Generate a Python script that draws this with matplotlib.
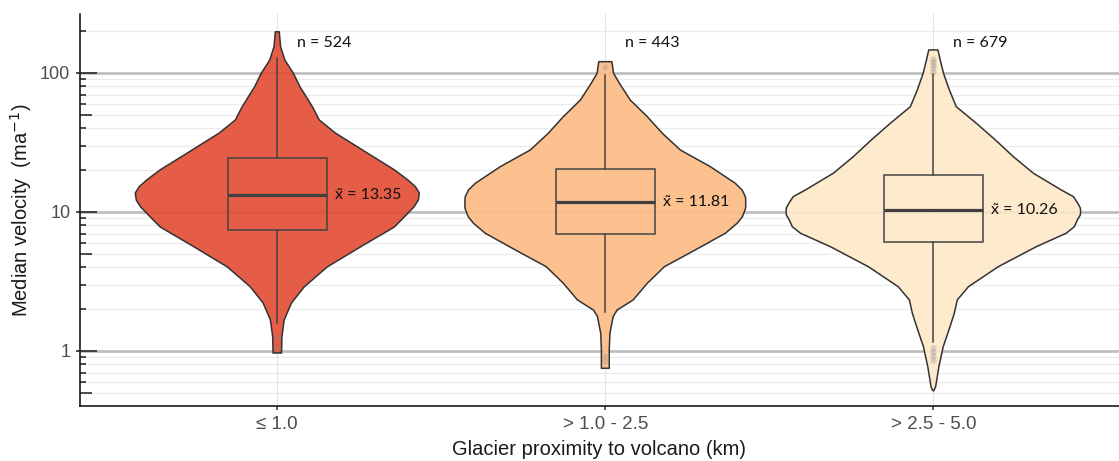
import matplotlib.pyplot as plt
import numpy as np
from matplotlib.colors import to_rgba
from matplotlib.ticker import FixedLocator, NullFormatter, FixedFormatter

categories = ['≤ 1.0', '> 1.0 - 2.5', '> 2.5 - 5.0']
n_obs = [524, 443, 679]
medians = [13.35, 11.81, 10.26]
q1 = [7.42, 6.91, 6.09]
q3 = [24.6, 20.4, 18.5]
whisker_lo = [1.58, 1.92, 1.17]
whisker_hi = [128.9, 96.8, 98.0]
outliers = [[1.05, 1.26],
            [0.85, 0.92, 111.0],
            [0.86, 0.92, 0.98, 1.05, 102.0, 108.0, 114.0, 120.0, 126.0]]
fill_colors = ['#e34a33', '#fdbb84', '#fee8c8']

# violin outlines: velocity value and half width
violin1_y = [198, 154.6, 124, 99.5, 79.7, 57.2, 45.9, 37.0, 26.6, 20.1, 17.0, 15.2, 13.7,
             12.2, 10.9, 9.84, 7.80, 5.60, 4.02, 2.89, 2.21, 1.67, 1.26, 0.967]
violin1_w = [0.006, 0.010, 0.023, 0.049, 0.069, 0.107, 0.128, 0.177, 0.274, 0.357, 0.398,
             0.421, 0.433, 0.430, 0.417, 0.399, 0.357, 0.253, 0.152, 0.082, 0.043, 0.021,
             0.014, 0.013]
violin2_y = [120.6, 99.5, 84.3, 63.9, 48.5, 36.8, 27.9, 21.2, 16.1, 14.4, 12.9, 12.2,
             10.9, 10.5, 9.25, 8.3, 7.03, 5.33, 4.04, 3.07, 2.33, 1.97, 1.77, 1.34, 1.02,
             0.751]
violin2_w = [0.020, 0.025, 0.043, 0.076, 0.128, 0.174, 0.229, 0.320, 0.396, 0.417, 0.427,
             0.428, 0.428, 0.427, 0.418, 0.402, 0.366, 0.274, 0.180, 0.128, 0.085, 0.036,
             0.024, 0.014, 0.012, 0.012]
violin3_y = [146.5, 124.1, 99.5, 75.4, 57.2, 43.5, 33.0, 25.0, 19.0, 14.4, 12.9, 11.5,
             10.7, 10.05, 9.5, 8.76, 7.84, 7.03, 5.63, 4.04, 2.90, 2.33, 1.87, 1.50, 1.07,
             0.771, 0.553, 0.518]
violin3_w = [0.014, 0.021, 0.031, 0.049, 0.070, 0.131, 0.189, 0.244, 0.305, 0.390, 0.427,
             0.441, 0.448, 0.449, 0.448, 0.439, 0.430, 0.405, 0.314, 0.198, 0.107, 0.073,
             0.064, 0.051, 0.030, 0.017, 0.007, 0.0015]
violins = [(violin1_y, violin1_w), (violin2_y, violin2_w), (violin3_y, violin3_w)]

major_y = [1, 10, 100]
mid_y = [0.5, 5, 50]
minor_y = [0.4, 0.6, 0.7, 0.8, 0.9, 2, 3, 4, 6, 7, 8, 9,
           20, 30, 40, 60, 70, 80, 90, 200]

ANNOT_FONT = ['Lato', 'DejaVu Sans']
plt.rcParams['font.family'] = ['Liberation Sans', 'DejaVu Sans']

pos = np.arange(len(categories))

fig = plt.figure(figsize=(11.19, 4.61), dpi=100)
ax = fig.add_axes([80/1119, 55/461, 1039/1119, 392/461])
ax.set_yscale('log')
ax.set_xlim(-0.6015, 2.566)
ax.set_ylim(0.402, 265.7)

# grid
for v in major_y:
    ax.axhline(v, color='#bdbdbd', lw=1.9, zorder=0.6)
for v in mid_y + minor_y:
    ax.axhline(v, color='#ebebeb', lw=0.8, zorder=0.5)
for p in pos:
    ax.axvline(p, color='#e3e3e3', lw=0.8, zorder=0.5)

# violins
for p, (vy, vw), c in zip(pos, violins, fill_colors):
    vy = np.array(vy)
    vw = np.array(vw)
    xs = np.concatenate([p - vw, (p + vw)[::-1]])
    ys = np.concatenate([vy, vy[::-1]])
    ax.fill(xs, ys, facecolor=to_rgba(c, 0.9), edgecolor='#333333', lw=1.1,
            joinstyle='round', zorder=2)

# boxes
stats = []
for i in range(len(categories)):
    stats.append(dict(med=medians[i], q1=q1[i], q3=q3[i],
                      whislo=whisker_lo[i], whishi=whisker_hi[i],
                      fliers=outliers[i]))
ax.bxp(stats, positions=pos, widths=0.3, showcaps=False, patch_artist=True,
       boxprops=dict(facecolor='none', edgecolor='#444444', lw=1.1),
       medianprops=dict(color='#404040', lw=2.3),
       whiskerprops=dict(color='#444444', lw=1.1),
       flierprops=dict(marker='o', markersize=4.5, markerfacecolor='#8c8c8c',
                       markeredgecolor='none', alpha=0.3),
       zorder=3, manage_ticks=False)

# annotations
for p, n, m in zip(pos, n_obs, medians):
    ax.text(p + 0.06, 164, f'n = {n}', ha='left', va='center', fontsize=11.5,
            family=ANNOT_FONT, color='#111111', zorder=5)
    ax.text(p + 0.177, m, f'x\u0303 = {m:.2f}', ha='left', va='center', fontsize=11.5,
            family=ANNOT_FONT, color='#111111', zorder=5)

# axes styling
for s in ['top', 'right']:
    ax.spines[s].set_visible(False)
for s in ['left', 'bottom']:
    ax.spines[s].set_color('#1a1a1a')
    ax.spines[s].set_linewidth(1.2)

ax.set_xticks(pos)
ax.set_xticklabels(categories)
ax.tick_params(axis='x', direction='out', length=3, width=1.1, color='#333333',
               labelsize=13.5, labelcolor='#4d4d4d', pad=4)

ax.yaxis.set_major_locator(FixedLocator(major_y))
ax.yaxis.set_major_formatter(FixedFormatter(['1', '10', '100']))
ax.yaxis.set_minor_locator(FixedLocator(minor_y))
ax.yaxis.set_minor_formatter(NullFormatter())
ax.tick_params(axis='y', which='major', direction='in', length=12.2, width=1.1,
               color='#1a1a1a', labelsize=13, labelcolor='#4d4d4d', pad=7)
ax.tick_params(axis='y', which='minor', direction='in', length=4.5, width=1.1,
               color='#1a1a1a')

# second set of ticks: mid log ticks inside, short stubs outside at decades
ax2 = ax.twinx()
ax2.set_yscale('log')
ax2.set_ylim(ax.get_ylim())
ax2.yaxis.tick_left()
for s in ax2.spines.values():
    s.set_visible(False)
ax2.yaxis.set_major_locator(FixedLocator(mid_y))
ax2.yaxis.set_major_formatter(NullFormatter())
ax2.yaxis.set_minor_locator(FixedLocator(major_y))
ax2.yaxis.set_minor_formatter(NullFormatter())
ax2.tick_params(axis='y', which='major', direction='in', length=8.6, width=1.1,
                color='#1a1a1a')
ax2.tick_params(axis='y', which='minor', direction='out', length=2.8, width=1.1,
                color='#1a1a1a')

ax.set_xlabel('Glacier proximity to volcano (km)', fontsize=14.5, color='#1a1a1a',
              labelpad=5)
ax.set_ylabel('Median velocity  (ma$^{-1}$)', fontsize=14.5, color='#1a1a1a')
ax.yaxis.set_label_coords(-46/1039, 0.5)

fig.savefig('out.png', dpi=100)
